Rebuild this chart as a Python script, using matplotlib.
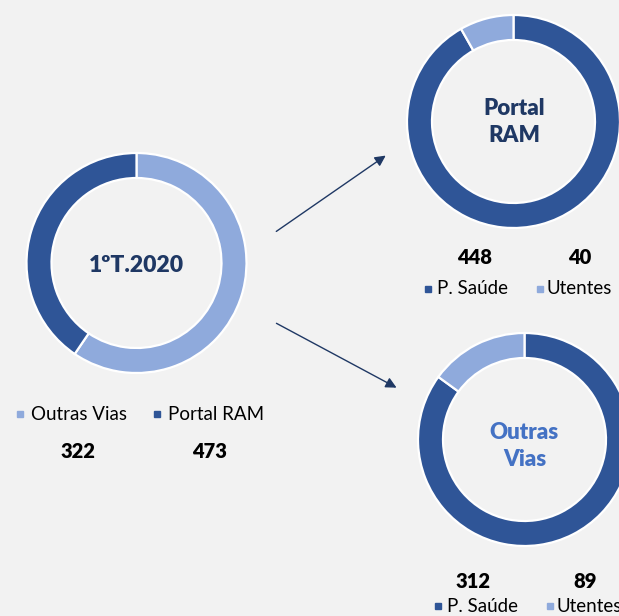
import matplotlib.pyplot as plt

# cores
DARK = "#2F5597"
LIGHT = "#8FAADC"
NAVY = "#1F3864"
MID = "#4472C4"
BG = "#F2F2F2"

# dados (como aparecem nos aneis, sentido horario a partir do topo)
total_labels = ["Outras Vias", "Portal RAM"]
total_values = [322, 473]
total_ring = [473, 322]          # claro, escuro
portal_labels = ["P. Saúde", "Utentes"]
portal_values = [448, 40]
portal_ring = [448, 40]          # escuro, claro
outras_labels = ["P. Saúde", "Utentes"]
outras_values = [312, 89]
outras_ring = [85, 15]           # escuro, claro

W, H = 619, 616
plt.rcParams["font.family"] = ["Lato", "DejaVu Sans"]

fig = plt.figure(figsize=(W / 100, H / 100), dpi=100, facecolor=BG)
ax = fig.add_axes([0, 0, 1, 1])
ax.set_facecolor(BG)


def Y(y):
    return H - y


def donut(vals, cols, cx, cy, r):
    ax.pie(vals, colors=cols, startangle=90, counterclock=False, radius=r,
           center=(cx, Y(cy)), frame=True,
           wedgeprops=dict(width=25, edgecolor="white", linewidth=1.6))


donut(total_ring, [LIGHT, DARK], 136.5, 263, 110)
donut(portal_ring, [DARK, LIGHT], 513.5, 121.5, 106.5)
donut(outras_ring, [DARK, LIGHT], 524.5, 439.5, 106.5)

# textos centrais
ax.text(136.5, Y(266), "1ºT.2020", ha="center", va="center", fontsize=16.5,
        fontweight="heavy", color=NAVY)
ax.text(514, Y(122), "Portal\nRAM", ha="center", va="center", fontsize=16,
        fontweight="heavy", color=NAVY, linespacing=1.35)
ax.text(524.5, Y(446), "Outras\nVias", ha="center", va="center", fontsize=16,
        fontweight="heavy", color=MID, linespacing=1.35)

# setas
ax.annotate("", xy=(388, Y(154)), xytext=(274, Y(233)),
            arrowprops=dict(arrowstyle="-|>", color=NAVY, lw=1.0, mutation_scale=16))
ax.annotate("", xy=(399, Y(389)), xytext=(274, Y(322)),
            arrowprops=dict(arrowstyle="-|>", color=NAVY, lw=1.0, mutation_scale=16))


def legend(items, y):
    for mx, tx, col, lab in items:
        ax.plot(mx, Y(y), marker="s", ms=5, color=col, ls="none")
        ax.text(tx, Y(y), lab, ha="left", va="center", fontsize=13.5, color="black")


def numbers(items, y):
    for x, v in items:
        ax.text(x, Y(y), str(v), ha="center", va="center", fontsize=14.5,
                fontweight="heavy", color="black")


legend([(20, 31, LIGHT, total_labels[0]), (157, 168, DARK, total_labels[1])], 414)
numbers([(78, total_values[0]), (209, total_values[1])], 452)

numbers([(475, portal_values[0]), (580, portal_values[1])], 257)
legend([(428, 437, DARK, portal_labels[0]), (540, 547, LIGHT, portal_labels[1])], 289)

numbers([(473, outras_values[0]), (585, outras_values[1])], 581)
legend([(438, 447, DARK, outras_labels[0]), (550, 557, LIGHT, outras_labels[1])], 606)

ax.set_xlim(0, W)
ax.set_ylim(0, H)
ax.set_aspect("auto")
ax.axis("off")

fig.savefig("out.png", dpi=100, facecolor=BG)
